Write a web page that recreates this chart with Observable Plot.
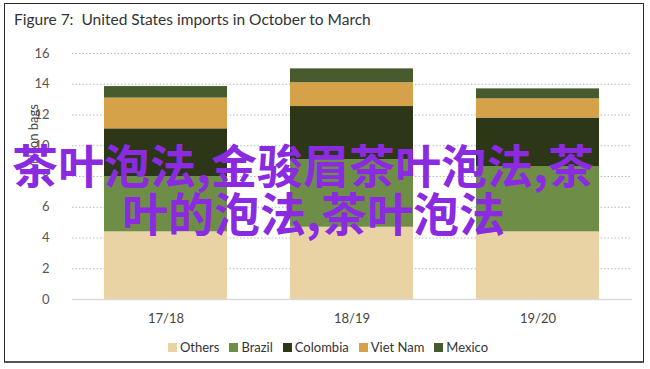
<!DOCTYPE html>
<html>
<head>
<meta charset="utf-8">
<script src="https://cdn.jsdelivr.net/npm/d3@7"></script>
<script src="https://cdn.jsdelivr.net/npm/@observablehq/plot@0.6"></script>
<style>
  html, body { margin: 0; padding: 0; background: #fff; }
  #page { position: relative; width: 650px; height: 369px; overflow: hidden; font-family: Lato, "Open Sans", sans-serif; }
  #frame { position: absolute; left: 4px; top: 3px; width: 638px; height: 357px; border: 1px solid #2a2a2a; border-bottom: 2px solid #555; box-sizing: content-box; }
  #title { position: absolute; left: 14px; top: 10px; font-size: 15.5px; color: #333; white-space: pre; }
  #chart { position: absolute; left: 0; top: 40px; }
  #legend { position: absolute; top: 339px; left: 0; width: 656px; display: flex; justify-content: center; gap: 10px; font-size: 13px; color: #333; }
  .item { display: flex; align-items: center; gap: 3px; }
  .sw { width: 9px; height: 9px; display: inline-block; }
  .wm { position: absolute; font-family: "Noto Sans CJK SC", sans-serif; font-weight: bold; font-size: 46px; color: #8a2be2; white-space: pre; line-height: 1; }
</style>
</head>
<body>
<div id="page">
  <div id="frame"></div>
  <div id="title">Figure 7:  United States imports in October to March</div>
  <div id="chart"></div>
  <div id="legend"></div>
  <div class="wm" id="wm1" style="left:12px; top:140px;">茶叶泡法,金骏眉茶叶泡法,茶</div>
  <div class="wm" id="wm2" style="left:122px; top:188px;">叶的泡法,茶叶泡法</div>
</div>
<script>
const years = ["17/18", "18/19", "19/20"];
const seriesNames = ["Others", "Brazil", "Colombia", "Viet Nam", "Mexico"];
const others   = [4.4, 4.7, 4.4];
const brazil   = [3.6, 4.4, 4.25];
const colombia = [3.1, 3.45, 3.15];
const vietNam  = [2.0, 1.55, 1.25];
const mexico   = [0.75, 0.9, 0.65];
const colors = ["#e9d2a4", "#6e8d47", "#2d3616", "#d5a149", "#475b2f"];
const yTicks = [0, 2, 4, 6, 8, 10, 12, 14, 16];

const seriesValues = [others, brazil, colombia, vietNam, mexico];
const table = [];
seriesNames.forEach((s, i) => years.forEach((y, j) => table.push({year: y, series: s, value: seriesValues[i][j]})));

const chart = Plot.plot({
  width: 650,
  height: 295,
  marginLeft: 72,
  marginRight: 18,
  marginTop: 13,
  marginBottom: 36,
  style: {fontFamily: "Lato, 'Open Sans', sans-serif", fontSize: "13px", color: "#555", background: "transparent"},
  x: {domain: years, paddingInner: 0.337, paddingOuter: 0.166, label: null},
  y: {domain: [0, 16], label: null},
  color: {domain: seriesNames, range: colors},
  marks: [
    Plot.gridY(yTicks, {stroke: "#b8b8b8", strokeOpacity: 1, strokeDasharray: "1.5,2"}),
    Plot.barY(table, Plot.stackY({x: "year", y: "value", fill: "series", order: seriesNames})),
    Plot.ruleY([0], {stroke: "#d9d9d9", strokeWidth: 1.5}),
    Plot.axisY(yTicks, {tickSize: 0, tickPadding: 23, label: null, fill: "#555"}),
    Plot.axisX({tickSize: 0, tickPadding: 14, label: null, fill: "#444"}),
    Plot.text(["Million bags"], {frameAnchor: "left", dx: -39, dy: -4, rotate: -90, text: d => d, fill: "#444", fontSize: 13})
  ]
});
document.getElementById("chart").appendChild(chart);

const legend = document.getElementById("legend");
seriesNames.forEach((s, i) => {
  const it = document.createElement("div");
  it.className = "item";
  const sw = document.createElement("span");
  sw.className = "sw";
  sw.style.background = colors[i];
  const lb = document.createElement("span");
  lb.textContent = s;
  it.appendChild(sw);
  it.appendChild(lb);
  legend.appendChild(it);
});
</script>
</body>
</html>
